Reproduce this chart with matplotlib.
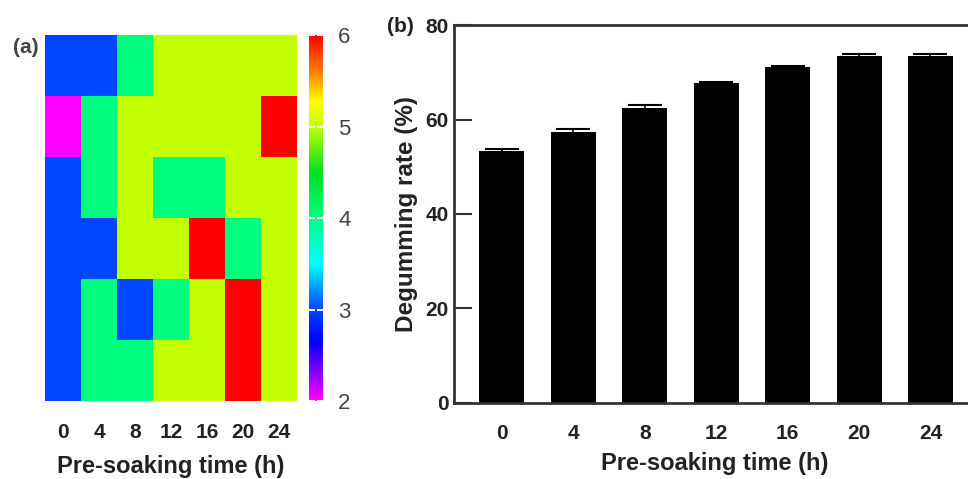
import matplotlib
matplotlib.use("Agg")
import matplotlib.pyplot as plt
import numpy as np
from matplotlib.colors import LinearSegmentedColormap

plt.rcParams['font.family'] = ['Liberation Sans', 'DejaVu Sans']

# pre-soaking times (h)
times = ['0', '4', '8', '12', '16', '20', '24']

# heatmap grid (rows top to bottom, columns = pre-soaking time)
grid = [
    [3, 3, 4, 5, 5, 5, 5],
    [2, 4, 5, 5, 5, 5, 6],
    [3, 4, 5, 4, 4, 5, 5],
    [3, 3, 5, 5, 6, 4, 5],
    [3, 4, 3, 4, 5, 6, 5],
    [3, 4, 4, 5, 5, 6, 5],
]

# degumming rate (%) and error
rate = [53.4, 57.3, 62.4, 67.7, 71.1, 73.4, 73.4]
err = [0.4, 0.8, 0.6, 0.35, 0.35, 0.4, 0.4]

txt = '#222222'

# colormap like the original (magenta -> blue -> cyan -> green -> yellow -> red)
cmap = LinearSegmentedColormap.from_list('soak', [
    (0.0, '#ff00ff'), (0.08, '#8000ff'), (0.16, '#0000ff'), (0.25, '#0044ff'),
    (0.375, '#00ffff'), (0.5, '#00ff80'), (0.625, '#00e020'), (0.75, '#c0ff00'),
    (0.82, '#ffff00'), (0.9, '#ff8000'), (1.0, '#ff0000')])

fig = plt.figure(figsize=(9.68, 4.79), dpi=100)

# (a) heatmap
ax1 = fig.add_axes([0.0465, 0.1628, 0.2603, 0.764])
im = ax1.imshow(np.array(grid), cmap=cmap, vmin=2, vmax=6, aspect='auto',
                interpolation='nearest')
for s in ax1.spines.values():
    s.set_visible(False)
ax1.set_xticks(range(len(times)))
ax1.set_xticklabels(times, fontsize=15, fontweight='bold', color=txt)
ax1.set_yticks([])
ax1.tick_params(axis='x', length=0, pad=16)
ax1.set_xlabel('Pre-soaking time (h)', fontsize=17, fontweight='bold', color=txt, labelpad=9)
fig.text(0.0134, 0.90, '(a)', fontsize=15, fontweight='bold', color='#444444', va='center')

cax = fig.add_axes([0.3192, 0.1628, 0.0145, 0.764])
cb = fig.colorbar(im, cax=cax, ticks=[2, 3, 4, 5, 6])
cb.outline.set_visible(False)
cb.ax.tick_params(direction='in', color='white', length=4, width=1.5,
                  labelsize=16, labelcolor='#444444', pad=11, left=True)

# (b) bar chart (right side runs past the figure edge, as in the original crop)
ax2 = fig.add_axes([0.469, 0.159, 0.538, 0.7885])
x = np.arange(len(times))
ax2.bar(x, rate, width=0.63, color='black', yerr=err, capsize=12,
        error_kw=dict(ecolor='black', elinewidth=1.2, capthick=1.5))
ax2.set_xlim(-0.672, 6.62)
ax2.set_ylim(0, 80)
ax2.set_yticks([0, 20, 40, 60, 80])
ax2.set_xticks(x)
ax2.set_xticklabels(times)
for s in ax2.spines.values():
    s.set_linewidth(2)
    s.set_color('#333333')
ax2.spines['right'].set_visible(False)
ax2.tick_params(axis='y', direction='in', length=13, width=1.5, color='#333333',
                labelsize=15, labelcolor=txt, pad=4)
ax2.tick_params(axis='x', length=0, labelsize=15, labelcolor=txt, pad=15)
for lab in ax2.get_xticklabels() + ax2.get_yticklabels():
    lab.set_fontweight('bold')
ax2.set_ylabel('Degumming rate (%)', fontsize=17.5, fontweight='bold', color=txt, labelpad=5)
ax2.set_xlabel('Pre-soaking time (h)', fontsize=17, fontweight='bold', color=txt, labelpad=7)
fig.text(0.3998, 0.944, '(b)', fontsize=15, fontweight='bold', color=txt, va='center')

fig.savefig('out.png', dpi=100)
